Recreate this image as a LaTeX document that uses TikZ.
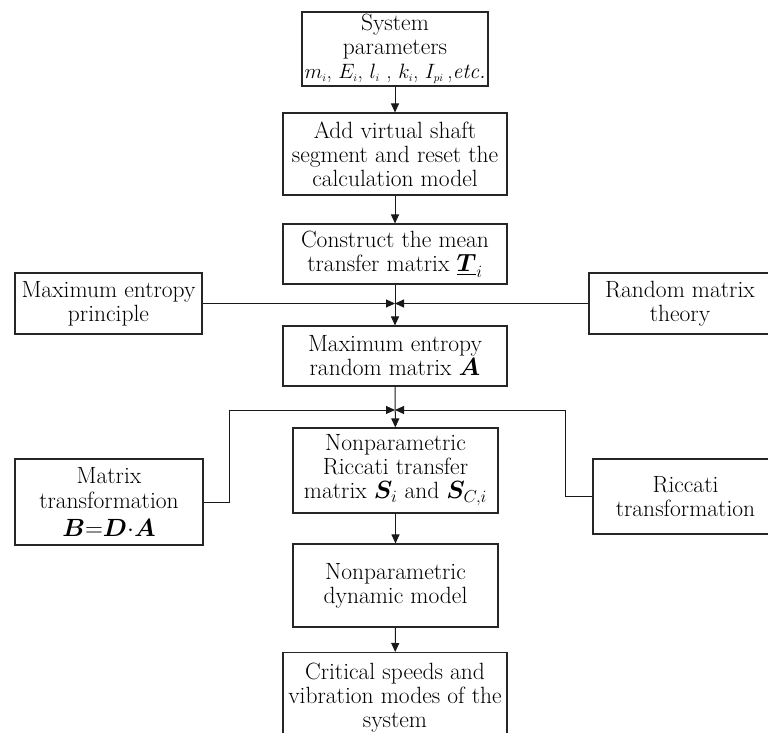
\documentclass[tikz,border=0pt]{standalone}
\usepackage{amsmath,bm}
\usetikzlibrary{arrows.meta}
\tikzset{
  box/.style={draw=black!85, line width=1.1pt, align=center, inner sep=1pt,
    font=\fontsize{23.5}{24}\selectfont},
  conn/.style={draw=black!90, line width=1pt},
  arr/.style={conn, -{Triangle[length=9pt,width=8pt]}},
}
\begin{document}
\begin{tikzpicture}[x=1pt,y=-1pt]
\useasboundingbox (0,0) rectangle (768,733);
\clip (0,0) rectangle (768,733);
% central column
\node[box, minimum width=186pt, minimum height=74pt] (b1) at (395,49)
  {System\\parameters\\{\fontsize{21.5}{24}\selectfont$m_{\scriptscriptstyle i}$, $E_{\scriptscriptstyle i}$, $l_{\scriptscriptstyle i}$ , $k_{\scriptscriptstyle i}$, $I_{\scriptscriptstyle pi}$\,,\textit{etc.}}};
\node[box, minimum width=224pt, minimum height=82pt] (b2) at (395,154)
  {Add virtual shaft\\segment and reset the\\calculation model};
\node[box, minimum width=224pt, minimum height=60pt] (b3) at (395,254)
  {Construct the mean\\transfer matrix $\underline{\bm{T}}_{\scriptstyle i}$};
\node[box, minimum width=224pt, minimum height=60pt] (b4) at (395,356)
  {Maximum entropy\\random matrix $\bm{A}$};
\node[box, minimum width=205pt, minimum height=85pt] (b5) at (395.5,470.5)
  {Nonparametric\\Riccati transfer\\matrix $\bm{S}_{\scriptstyle i}$ and $\bm{S}_{\scriptstyle C,i}$};
\node[box, minimum width=205pt, minimum height=83pt] (b6) at (395.5,585.5)
  {Nonparametric\\dynamic model};
\node[box, minimum width=224pt, minimum height=90pt, anchor=north] (b7) at (395,652)
  {Critical speeds and\\vibration modes of the\\system};
% side boxes
\node[box, minimum width=187pt, minimum height=61pt] (l1) at (108.5,303.5)
  {Maximum entropy\\principle};
\node[box, minimum width=182pt, minimum height=61pt] (r1) at (680,303.5)
  {Random matrix\\theory};
\node[box, minimum width=188pt, minimum height=86pt] (l2) at (109,502)
  {Matrix\\[1pt]transformation\\[4pt]$\bm{B}{=}\bm{D}{\cdot}\bm{A}$};
\node[box, minimum width=185pt, minimum height=75pt] (r2) at (685.5,496.5)
  {Riccati\\transformation};
% junctions
\coordinate (j1) at (395,303.5);
\coordinate (j2) at (395,410);
\coordinate (el) at (229,410);
\coordinate (er) at (565,410);
% connectors
\draw[arr] (b1) -- (b2);
\draw[arr] (b2) -- (b3);
\draw[arr] (b3) -- (b4);
\draw[arr] (l1) -- (j1);
\draw[arr] (r1) -- (j1);
\draw[arr] (b4) -- (b5);
\draw[arr] (l2.east) -- (l2.east -| el) -- (el) -- (j2);
\draw[arr] (r2.west) -- (r2.west -| er) -- (er) -- (j2);
\draw[arr] (b5) -- (b6);
\draw[arr] (b6) -- (b7);
\end{tikzpicture}
\end{document}
